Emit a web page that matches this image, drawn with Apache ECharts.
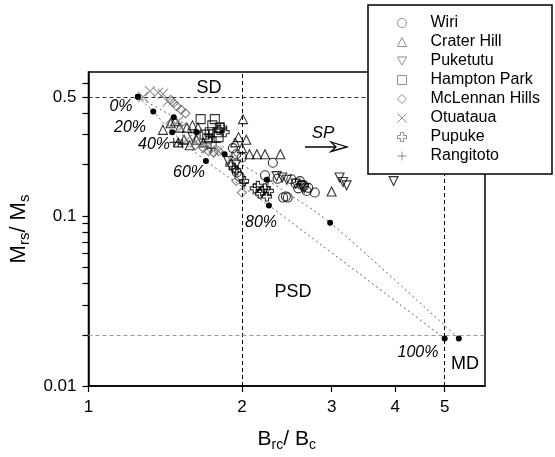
<!DOCTYPE html>
<html><head><meta charset="utf-8">
<script src="https://cdn.jsdelivr.net/npm/echarts@6/dist/echarts.min.js"></script>
<style>html,body{margin:0;padding:0;background:#fff}#c{width:555px;height:457px}</style>
</head><body><div id="c"></div>
<script>
const xTickValues = [1, 2, 3, 4, 5];
const yLabelValues = [0.01, 0.1, 0.5];
const yTickValues = [0.01,0.02,0.03,0.04,0.05,0.06,0.07,0.08,0.09,0.1,0.2,0.3,0.4,0.5,0.6];
const seriesNames = ['Wiri','Crater Hill','Puketutu','Hampton Park','McLennan Hills','Otuataua','Pupuke','Rangitoto'];

const wiri = [[1.92,0.25],[1.95,0.23],[2.00,0.22],[1.955,0.18],[1.98,0.17],[2.22,0.173],[2.30,0.205],[2.50,0.164],[2.60,0.160],[2.55,0.155],[2.62,0.152],[2.58,0.145],[2.68,0.140],[2.78,0.137],[2.70,0.146],[2.41,0.128],[2.46,0.128],[2.44,0.130],[2.35,0.165],[2.65,0.150]];
const craterHill = [[1.40,0.32],[1.45,0.35],[1.48,0.36],[1.51,0.33],[1.56,0.33],[1.60,0.34],[1.64,0.33],[1.54,0.28],[1.58,0.26],[1.63,0.28],[1.68,0.27],[1.50,0.27],[1.94,0.27],[1.97,0.29],[2.04,0.28],[2.01,0.37],[2.00,0.25],[2.07,0.23],[2.14,0.23],[2.22,0.23],[2.38,0.23],[3.00,0.139],[1.72,0.29]];
const puketutu = [[1.88,0.21],[1.95,0.20],[1.60,0.29],[2.34,0.171],[2.40,0.168],[2.45,0.163],[2.55,0.155],[2.62,0.150],[2.65,0.145],[3.11,0.168],[3.16,0.158],[3.21,0.151],[3.97,0.160]];
const hamptonPark = [[1.66,0.37],[1.77,0.37],[1.73,0.31],[1.80,0.29],[1.79,0.31],[1.71,0.285],[1.81,0.33],[1.75,0.34],[1.69,0.30]];
const mclennanHills = [[1.45,0.48],[1.47,0.46],[1.49,0.44],[1.52,0.42],[1.55,0.40],[1.45,0.35],[1.62,0.26],[1.68,0.25],[1.72,0.24],[1.76,0.235],[1.80,0.24],[1.92,0.22],[2.00,0.137],[1.95,0.16]];
const otuataua = [[1.28,0.50],[1.32,0.54],[1.37,0.53],[1.40,0.52],[1.43,0.47],[1.50,0.36],[1.52,0.33],[1.56,0.28],[1.62,0.27],[1.70,0.25],[1.80,0.24]];
const pupuke = [[1.83,0.33],[1.85,0.31],[1.80,0.32],[1.90,0.20],[1.93,0.19],[1.95,0.185],[2.02,0.16],[2.12,0.145],[2.15,0.15],[2.19,0.14],[2.22,0.145],[2.26,0.14],[2.17,0.135],[2.24,0.13]];
const rangitoto = [[1.47,0.27],[1.50,0.27],[1.53,0.265],[1.72,0.30],[1.75,0.29],[1.78,0.27],[1.74,0.25],[2.02,0.155],[2.25,0.16]];
const mixLower = [[1.25,0.50],[1.34,0.41],[1.46,0.31],[1.70,0.21],[2.26,0.115],[5.0,0.019]];
const mixUpper = [[1.25,0.50],[1.47,0.38],[1.63,0.31],[1.85,0.23],[2.24,0.163],[2.98,0.091],[5.33,0.019]];
const refX = [2, 5];
const refY = [0.5, 0.02];

const FONT = '"Liberation Sans", Arial, Helvetica, sans-serif';
const chart = echarts.init(document.getElementById('c'), null, {renderer: 'canvas'});

function scatter(name, data, symbol, opts) {
  return Object.assign({
    name, type: 'scatter', data, symbol, symbolSize: 9,
    itemStyle: {color: 'transparent', borderColor: '#000', borderWidth: 1.1},
    z: 3
  }, opts || {});
}
const mixStyle = {
  type: 'line', symbol: 'circle', symbolSize: 6, showSymbol: true, smooth: 0.25,
  itemStyle: {color: '#000'}, lineStyle: {color: '#666', width: 1, type: [2, 3]}, z: 4
};

const option = {
  animation: false,
  backgroundColor: '#fff',
  grid: {left: 88, right: 70, top: 72, bottom: 71, show: true, borderColor: '#000', borderWidth: 1.5, containLabel: false},
  xAxis: {
    type: 'log', logBase: 10, min: 1, max: 6,
    name: 'B{s|rc}/ B{s|c}', nameLocation: 'middle', nameGap: 40,
    nameTextStyle: {fontFamily: FONT, fontSize: 21, color: '#000', rich: {s: {fontFamily: FONT, fontSize: 14, verticalAlign: 'bottom', padding: [12,0,0,0], color:'#000'}}},
    axisLine: {show: true, onZero: false, lineStyle: {color: '#000', width: 1.5}},
    axisTick: {show: true, inside: false, length: 6, customValues: xTickValues, lineStyle: {color: '#000', width: 1.2}},
    axisLabel: {customValues: xTickValues, margin: 13, fontFamily: FONT, fontSize: 17, color: '#000', formatter: v => String(Math.round(v))},
    splitLine: {show: false}, minorTick: {show: false}
  },
  yAxis: {
    type: 'log', logBase: 10, min: 0.01, max: 0.7,
    name: 'M{s|rs}/ M{s|s}', nameLocation: 'middle', nameGap: 52, nameRotate: 90,
    nameTextStyle: {fontFamily: FONT, fontSize: 22, color: '#000', rich: {s: {fontFamily: FONT, fontSize: 15, verticalAlign: 'bottom', padding: [12,0,0,0], color:'#000'}}},
    axisLine: {show: true, onZero: false, lineStyle: {color: '#000', width: 1.5}},
    axisTick: {show: true, inside: false, length: 6, customValues: yTickValues, lineStyle: {color: '#000', width: 1.2}},
    axisLabel: {customValues: yLabelValues, margin: 12, fontFamily: FONT, fontSize: 17, color: '#000', formatter: v => String(+v.toPrecision(2))},
    splitLine: {show: false}, minorTick: {show: false}
  },
  legend: {
    orient: 'vertical', left: 397, top: 15, itemWidth: 9, itemHeight: 9, itemGap: 3,
    z: 10, padding: 0, selectedMode: false,
    textStyle: {fontFamily: FONT, fontSize: 16, color: '#000', padding: [0, 0, 0, 19]},
    itemStyle: {borderColor: '#777', color: 'transparent', borderWidth: 1},
    data: seriesNames
  },
  graphic: [
    {type: 'rect', z: 8, shape: {x: 368, y: 5, width: 184, height: 169}, style: {fill: '#fff', stroke: '#000', lineWidth: 1.5}},
    {type: 'text', z: 9, style: {text: 'SD', x: 209, y: 88, font: '18px ' + FONT, fill: '#000', textAlign: 'center', textVerticalAlign: 'middle'}},
    {type: 'text', z: 9, style: {text: 'PSD', x: 293, y: 292, font: '18px ' + FONT, fill: '#000', textAlign: 'center', textVerticalAlign: 'middle'}},
    {type: 'text', z: 9, style: {text: 'MD', x: 465, y: 364, font: '18px ' + FONT, fill: '#000', textAlign: 'center', textVerticalAlign: 'middle'}},
    {type: 'text', z: 9, style: {text: 'SP', x: 323, y: 133, font: 'italic 17px ' + FONT, fill: '#000', textAlign: 'center', textVerticalAlign: 'middle'}},
    {type: 'line', z: 9, shape: {x1: 305, y1: 147, x2: 340, y2: 147}, style: {stroke: '#000', lineWidth: 1.5}},
    {type: 'polygon', z: 9, shape: {points: [[331,142],[347,147],[331,151.5],[336,147]]}, style: {fill: '#fff', stroke: '#000', lineWidth: 1.3}},
    {type: 'text', z: 9, style: {text: '0%', x: 121, y: 107, font: 'italic 16px ' + FONT, fill: '#000', textAlign: 'center', textVerticalAlign: 'middle'}},
    {type: 'text', z: 9, style: {text: '20%', x: 130, y: 128, font: 'italic 16px ' + FONT, fill: '#000', textAlign: 'center', textVerticalAlign: 'middle'}},
    {type: 'text', z: 9, style: {text: '40%', x: 154, y: 145, font: 'italic 16px ' + FONT, fill: '#000', textAlign: 'center', textVerticalAlign: 'middle'}},
    {type: 'text', z: 9, style: {text: '60%', x: 189, y: 173, font: 'italic 16px ' + FONT, fill: '#000', textAlign: 'center', textVerticalAlign: 'middle'}},
    {type: 'text', z: 9, style: {text: '80%', x: 261, y: 223, font: 'italic 16px ' + FONT, fill: '#000', textAlign: 'center', textVerticalAlign: 'middle'}},
    {type: 'text', z: 9, style: {text: '100%', x: 418, y: 353, font: 'italic 16px ' + FONT, fill: '#000', textAlign: 'center', textVerticalAlign: 'middle'}}
  ],
  series: [
    scatter('Wiri', wiri, 'circle'),
    scatter('Crater Hill', craterHill, 'triangle'),
    scatter('Puketutu', puketutu, 'path://M0,0L10,0L5,9Z'),
    scatter('Hampton Park', hamptonPark, 'rect'),
    scatter('McLennan Hills', mclennanHills, 'diamond', {itemStyle: {color: 'transparent', borderColor: '#666', borderWidth: 1.1}}),
    scatter('Otuataua', otuataua, 'path://M0,0L10,10M10,0L0,10', {symbolSize: 10, itemStyle: {color: 'transparent', borderColor: '#777', borderWidth: 1.1}}),
    scatter('Pupuke', pupuke, 'path://M3.3,0H6.7V3.3H10V6.7H6.7V10H3.3V6.7H0V3.3H3.3Z'),
    scatter('Rangitoto', rangitoto, 'path://M5,0V10M0,5H10'),
    Object.assign({name: 'mixLower', data: mixLower}, mixStyle, {
      markLine: {
        silent: true, symbol: ['none', 'none'], label: {show: false}, animation: false,
        lineStyle: {type: [4, 3], width: 1, color: '#000'},
        data: [
          {xAxis: refX[0]}, {xAxis: refX[1]},
          {yAxis: refY[0], lineStyle: {color: '#333'}},
          {yAxis: refY[1], lineStyle: {color: '#999'}}
        ]
      }
    }),
    Object.assign({name: 'mixUpper', data: mixUpper}, mixStyle)
  ]
};
chart.setOption(option);
</script>
</body></html>
